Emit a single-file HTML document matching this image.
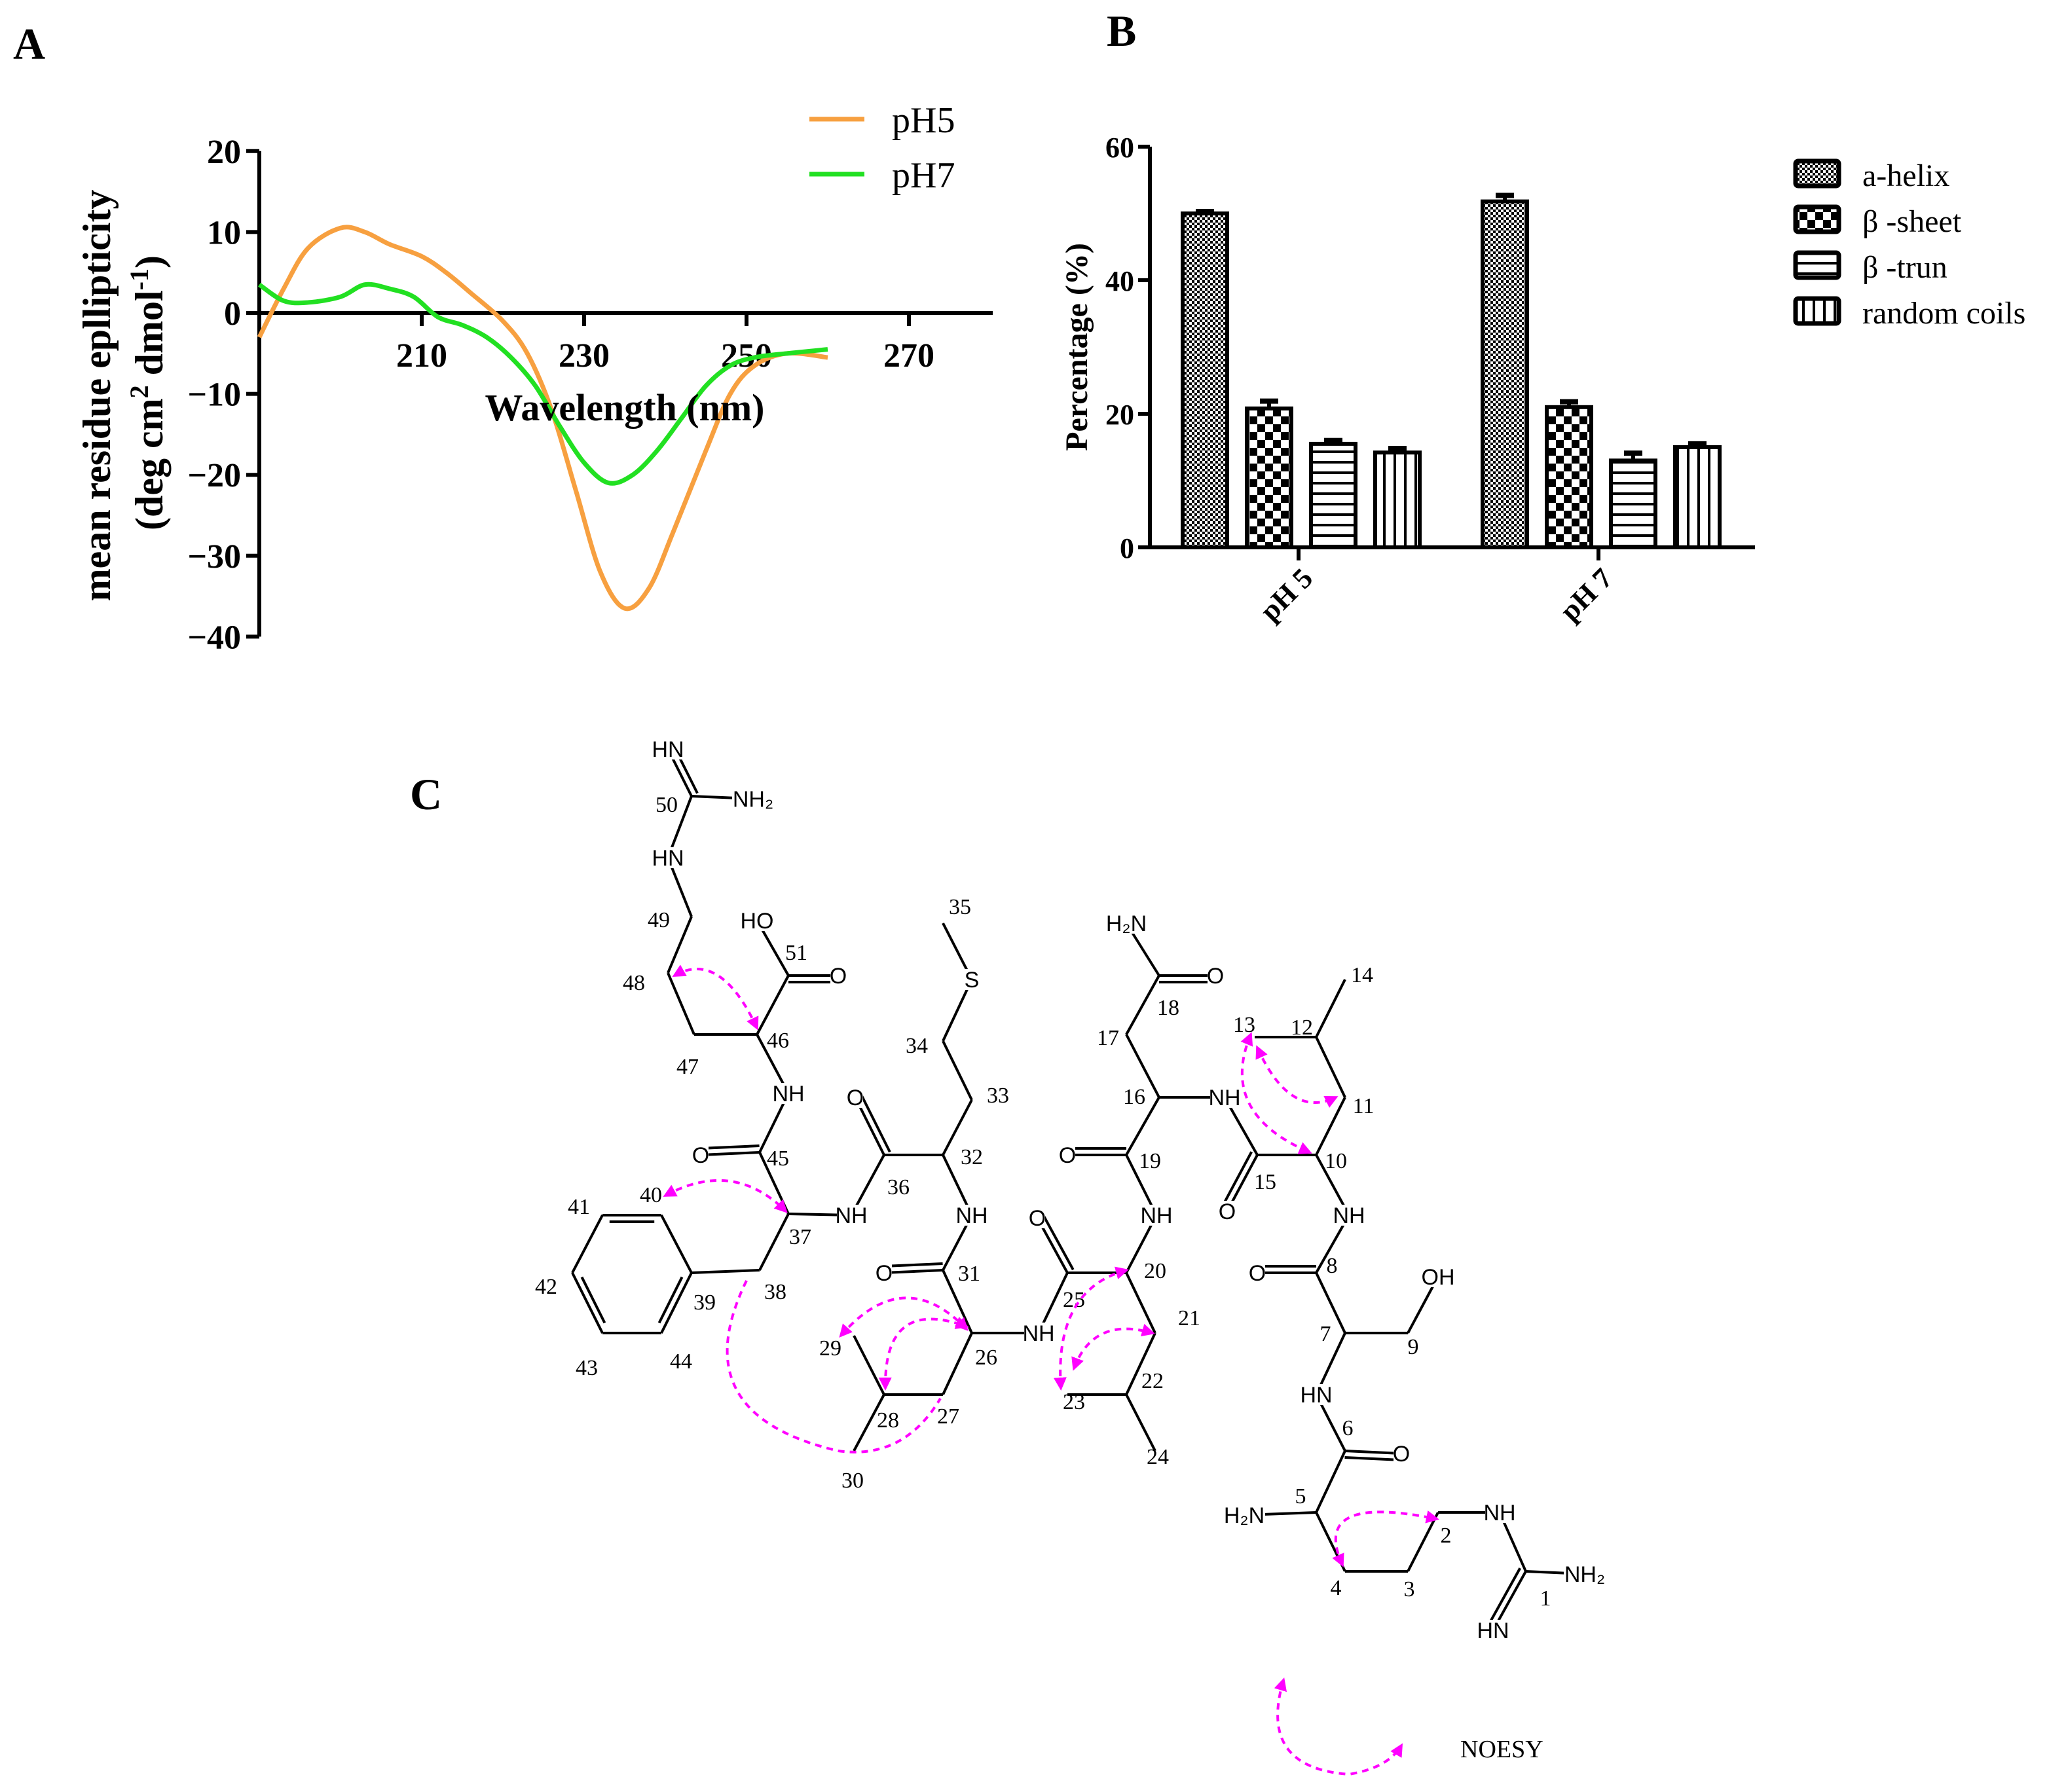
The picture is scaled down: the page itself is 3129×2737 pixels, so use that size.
<!DOCTYPE html>
<html><head><meta charset="utf-8"><style>
html,body{margin:0;padding:0;background:#fff}
svg{display:block}
.serif{font-family:"Liberation Serif",serif}
.sans{font-family:"Liberation Sans",sans-serif}
</style></head><body>
<svg id="fig" width="3129" height="2737" viewBox="0 0 1564.5 1368.5" xmlns="http://www.w3.org/2000/svg">
<defs>
<pattern id="pHelix" width="4" height="4" patternUnits="userSpaceOnUse"><rect width="4" height="4" fill="#fff"/><rect width="2" height="2" fill="#000"/><rect x="2" y="2" width="2" height="2" fill="#000"/></pattern>
<pattern id="pSheet" width="12" height="12" patternUnits="userSpaceOnUse"><rect width="12" height="12" fill="#fff"/><rect width="6" height="6" fill="#000"/><rect x="6" y="6" width="6" height="6" fill="#000"/></pattern>
<pattern id="pTurn" width="8" height="8" patternUnits="userSpaceOnUse"><rect width="8" height="8" fill="#fff"/><rect y="0" width="8" height="2" fill="#000"/></pattern>
<pattern id="pCoil" width="8" height="8" patternUnits="userSpaceOnUse"><rect width="8" height="8" fill="#fff"/><rect x="0" width="2" height="8" fill="#000"/></pattern>
<marker id="arr" viewBox="0 0 10 10" refX="8" refY="5" markerWidth="5" markerHeight="5" orient="auto-start-reverse"><path d="M0,0L10,5L0,10z" fill="#f0f"/></marker>
</defs>
<text x="10" y="45" class="serif" font-size="34" font-weight="bold">A</text>
<text x="845" y="35" class="serif" font-size="34" font-weight="bold">B</text>
<text x="313" y="618" class="serif" font-size="34" font-weight="bold">C</text>
<g id="chartA"></g>
<g id="chartB"></g>
<g id="chem"></g>
</svg>
<script>
const NS="http://www.w3.org/2000/svg";
function mk(parent,tag,attrs,text){const e=document.createElementNS(NS,tag);for(const k in attrs)e.setAttribute(k,attrs[k]);if(text!==undefined)e.textContent=text;parent.appendChild(e);return e;}

// ---------- Chart A data ----------
const wl5=[190,193,196,200,203,206,210,213,216,220,223,226,229,232,235,238,241,245,248,251,255,260];
const ph5=[-3,3,8,10.5,10,8.5,7,5,2.5,-1,-5,-12,-22,-32,-36.5,-34,-27,-17,-10,-6.5,-5,-5.5];
const wl7=[190,193,196,200,203,206,209,212,215,218,221,224,227,230,233,236,239,242,245,248,251,255,260];
const ph7=[3.5,1.5,1.3,2,3.5,3,2,-0.5,-1.5,-3,-5.5,-9,-14,-18.5,-21,-20,-17,-13,-9,-6.5,-5.5,-5,-4.5];
const xTicksA=[210,230,250,270];
const yTicksA=[20,10,0,-10,-20,-30,-40];
const A=document.getElementById('chartA');
const ax=v=>198+(v-190)*6.2;
const ay=v=>239-v*6.18;
mk(A,'line',{x1:198,y1:ay(20),x2:198,y2:ay(-40),stroke:'#000','stroke-width':3,});
mk(A,'line',{x1:198,y1:ay(0),x2:758,y2:ay(0),stroke:'#000','stroke-width':3,});
yTicksA.forEach(v=>{
 const t=mk(A,'line',{x1:188,y1:ay(v),x2:198,y2:ay(v),stroke:'#000','stroke-width':3});
 
 const l=mk(A,'text',{x:184,y:ay(v)+9,'text-anchor':'end','font-size':26,'font-weight':'bold',class:'serif'},v===0?'0':String(v).replace('-','−'));
 
});
xTicksA.forEach(v=>{
 const t=mk(A,'line',{x1:ax(v),y1:ay(0),x2:ax(v),y2:ay(0)+10,stroke:'#000','stroke-width':3});
 
 const l=mk(A,'text',{x:ax(v),y:280,'text-anchor':'middle','font-size':26,'font-weight':'bold',class:'serif'},String(v));
 
});
function smooth(xs,ys){let p=xs.map((x,i)=>[ax(x),ay(ys[i])]);let d='M'+p[0][0]+','+p[0][1];for(let i=0;i<p.length-1;i++){const p0=p[i-1]||p[i],p1=p[i],p2=p[i+1],p3=p[i+2]||p2;d+=` C${p1[0]+(p2[0]-p0[0])/6},${p1[1]+(p2[1]-p0[1])/6} ${p2[0]-(p3[0]-p1[0])/6},${p2[1]-(p3[1]-p1[1])/6} ${p2[0]},${p2[1]}`;}return d;}
let s5=mk(A,'path',{d:smooth(wl5,ph5),fill:'none',stroke:'#f7a040','stroke-width':3.5});

let s7=mk(A,'path',{d:smooth(wl7,ph7),fill:'none',stroke:'#22e022','stroke-width':3.5});

mk(A,'text',{x:477,y:321,'text-anchor':'middle','font-size':29,'font-weight':'bold',class:'serif',},'Wavelength (nm)');
mk(A,'text',{transform:'translate(84,302) rotate(-90)','text-anchor':'middle','font-size':30,'font-weight':'bold',class:'serif',},'mean residue epllipticity');
const yt2=mk(A,'text',{transform:'translate(124,300) rotate(-90)','text-anchor':'middle','font-size':30,'font-weight':'bold',class:'serif',});
yt2.innerHTML='(deg cm<tspan dy="-11" font-size="20">2</tspan><tspan dy="11"> dmol</tspan><tspan dy="-11" font-size="20">-1</tspan><tspan dy="11">)</tspan>';
mk(A,'line',{x1:618,y1:91,x2:660,y2:91,stroke:'#f7a040','stroke-width':3.5,});
mk(A,'text',{x:681,y:101,'font-size':28,class:'serif',},'pH5');
mk(A,'line',{x1:618,y1:133,x2:660,y2:133,stroke:'#22e022','stroke-width':3.5,});
mk(A,'text',{x:681,y:143,'font-size':28,class:'serif',},'pH7');

// ---------- Chart B data ----------
const groups=['pH 5','pH 7'];
const structNames=['a-helix','β -sheet','β -trun','random coils'];
const valsPH5=[50,20.8,15.5,14.2];
const valsPH7=[51.8,21,13,15];
const errPH5=[0.3,1.1,0.5,0.6];
const errPH7=[0.9,0.8,1.1,0.5];
const yTicksB=[0,20,40,60];
const B=document.getElementById('chartB');
const by=v=>418-v*5.1;
const fills=['url(#pHelix)','url(#pSheet)','url(#pTurn)','url(#pCoil)'];
mk(B,'line',{x1:878,y1:by(60),x2:878,y2:by(0),stroke:'#000','stroke-width':3,});
mk(B,'line',{x1:870,y1:by(0),x2:1340,y2:by(0),stroke:'#000','stroke-width':3,});
yTicksB.forEach(v=>{
 const t=mk(B,'line',{x1:869,y1:by(v),x2:878,y2:by(v),stroke:'#000','stroke-width':3});
 
 const l=mk(B,'text',{x:866,y:by(v)+8,'text-anchor':'end','font-size':22,'font-weight':'bold',class:'serif'},String(v));
 
});
mk(B,'text',{transform:'translate(830,265) rotate(-90)','text-anchor':'middle','font-size':24,'font-weight':'bold',class:'serif',},'Percentage (%)');
const groupVals=[valsPH5,valsPH7],groupErr=[errPH5,errPH7],groupStart=[903,1132];
groups.forEach((g,gi)=>{
 groupVals[gi].forEach((v,i)=>{
  const x=groupStart[gi]+i*49,w=34,top=by(v),etop=by(v+groupErr[gi][i]);
  const el=mk(B,'line',{x1:x+w/2,y1:etop,x2:x+w/2,y2:top,stroke:'#000','stroke-width':3});
  
  const ec=mk(B,'line',{x1:x+w/2-7,y1:etop,x2:x+w/2+7,y2:etop,stroke:'#000','stroke-width':4});
  
  const r=mk(B,'rect',{x:x,y:top,width:w,height:by(0)-top,fill:fills[i],stroke:'#000','stroke-width':3});
  
 });
 const cx=groupStart[gi]+49*1.5+17;
 const t=mk(B,'line',{x1:cx-2,y1:by(0),x2:cx-2,y2:by(0)+10,stroke:'#000','stroke-width':3});
 
 const l=mk(B,'text',{transform:`translate(${cx+10},${by(0)+25}) rotate(-45)`,'text-anchor':'end','font-size':22,'font-weight':'bold',class:'serif'},g);
 
});
structNames.forEach((n,i)=>{
 const y=133+i*35;
 const r=mk(B,'rect',{x:1371,y:y-10,width:33,height:19,fill:fills[i],stroke:'#000','stroke-width':3.5,rx:2});
 
 const t=mk(B,'text',{x:1422,y:y+9,'font-size':24,class:'serif'},n);
 
});

// ---------- Structure C ----------
const C=document.getElementById('chem');
const P={
 n50a:[510,572],c50:[528,608],n50b:[575,610],n49:[510,655],c49:[528,700],c48:[510,743],c47:[530,790],c46:[578,790],c51:[602,745],oh51:[578,703],o51:[640,745],
 n46:[602,835],c45:[580,880],o45:[535,882],c37:[602,927],n37:[650,928],c38:[580,970],c39:[528,972],c40:[505,928],c41:[460,928],c42:[437,972],c43:[460,1018],c44:[505,1018],
 c36:[675,882],o36:[653,838],c32:[720,882],c33:[742,840],c34:[720,795],s:[742,748],c35:[720,705],
 n32:[742,928],c31:[720,970],o31:[675,972],c26:[742,1018],n26:[793,1018],c27:[720,1065],c28:[675,1065],c29:[652,1020],c30:[652,1108],
 c25:[815,972],o25:[792,930],c20:[860,972],n20:[883,928],c21:[882,1018],c22:[860,1065],c23:[815,1065],c24:[882,1108],
 c19:[860,882],o19:[815,882],c16:[885,838],c17:[860,790],c18:[885,745],o18:[928,745],n18:[860,705],
 n16:[935,838],c15:[960,882],o15:[937,925],c10:[1005,882],c11:[1027,838],c12:[1005,792],c13:[958,792],c14:[1027,748],
 n10:[1030,928],c8:[1005,972],o8:[960,972],c7:[1027,1018],c9:[1075,1018],oh9:[1098,975],n7:[1005,1065],c6:[1027,1108],o6:[1070,1110],c5:[1005,1155],n5:[950,1157],c4:[1027,1200],c3:[1075,1200],c2:[1098,1155],n2:[1145,1155],c1:[1165,1200],n1:[1210,1202],n1b:[1140,1245]
};
const single=[['c50','n50b'],['c50','n49'],['n49','c49'],['c49','c48'],['c48','c47'],['c47','c46'],['c46','c51'],['c51','oh51'],['c46','n46'],['n46','c45'],['c45','c37'],['c37','n37'],['c37','c38'],['c38','c39'],['c39','c40'],['c41','c42'],['c43','c44'],
 ['n37','c36'],['c36','c32'],['c32','c33'],['c33','c34'],['c34','s'],['s','c35'],['c32','n32'],['n32','c31'],['c31','c26'],['c26','n26'],['c26','c27'],['c27','c28'],['c28','c29'],['c28','c30'],
 ['n26','c25'],['c25','c20'],['c20','n20'],['c20','c21'],['c21','c22'],['c22','c23'],['c22','c24'],['n20','c19'],['c19','c16'],['c16','c17'],['c17','c18'],['c18','n18'],['c16','n16'],['n16','c15'],['c15','c10'],['c10','c11'],['c11','c12'],['c12','c13'],['c12','c14'],
 ['c10','n10'],['n10','c8'],['c8','c7'],['c7','c9'],['c9','oh9'],['c7','n7'],['n7','c6'],['c6','c5'],['c5','n5'],['c5','c4'],['c4','c3'],['c3','c2'],['c2','n2'],['n2','c1'],['c1','n1']];
const dbl=[['c50','n50a'],['c51','o51'],['c45','o45'],['c36','o36'],['c31','o31'],['c25','o25'],['c19','o19'],['c18','o18'],['c15','o15'],['c8','o8'],['c6','o6'],['c1','n1b'],['c40','c41'],['c42','c43'],['c44','c39']];
const ringC=[482,972];
single.forEach(([a,b])=>{const l=mk(C,'line',{x1:P[a][0],y1:P[a][1],x2:P[b][0],y2:P[b][1],stroke:'#000','stroke-width':2});});
dbl.forEach(([a,b])=>{const [x1,y1]=P[a],[x2,y2]=P[b];let dx=x2-x1,dy=y2-y1,L=Math.hypot(dx,dy),nx=-dy/L*5,ny=dx/L*5;
 const l=mk(C,'line',{x1,y1,x2,y2,stroke:'#000','stroke-width':2});
 if(a.startsWith('c4')&&b.startsWith('c4')||a==='c44'){
  const mx=(x1+x2)/2,my=(y1+y2)/2;if((mx+nx-ringC[0])**2+(my+ny-ringC[1])**2>(mx-ringC[0])**2+(my-ringC[1])**2){nx=-nx;ny=-ny;}
  const l2=mk(C,'line',{x1:x1+nx+dx*0.12,y1:y1+ny+dy*0.12,x2:x2+nx-dx*0.12,y2:y2+ny-dy*0.12,stroke:'#000','stroke-width':2});
 } else {const l2=mk(C,'line',{x1:x1+nx,y1:y1+ny,x2:x2+nx,y2:y2+ny,stroke:'#000','stroke-width':2});}
});
const atoms=[['n50a','HN'],['n50b','NH₂'],['n49','HN'],['oh51','HO'],['o51','O'],['n46','NH'],['o45','O'],['n37','NH'],['o36','O'],['s','S'],['n32','NH'],['o31','O'],['n26','NH'],['o25','O'],['n20','NH'],['o19','O'],['o18','O'],['n18','H₂N'],['n16','NH'],['o15','O'],['n10','NH'],['o8','O'],['oh9','OH'],['n7','HN'],['o6','O'],['n5','H₂N'],['n2','NH'],['n1','NH₂'],['n1b','HN']];
atoms.forEach(([k,t])=>{const w=t.length*10+2;
 const bg=mk(C,'rect',{x:P[k][0]-w/2,y:P[k][1]-8,width:w,height:16,fill:'#fff'});
 const e=mk(C,'text',{x:P[k][0],y:P[k][1]+6,'text-anchor':'middle','font-size':17,class:'sans'},t);});
const nums=[[50,509,620],[49,503,708],[48,484,756],[47,525,820],[46,594,800],[51,608,733],[45,594,890],[37,611,950],[38,592,992],[39,538,1000],[40,497,918],[41,442,927],[42,417,988],[43,448,1050],[44,520,1045],[36,686,912],[32,742,889],[33,762,842],[34,700,804],[35,733,698],[31,740,978],[26,753,1042],[27,724,1087],[28,678,1090],[29,634,1035],[30,651,1136],[25,820,998],[20,882,976],[21,908,1012],[22,880,1060],[23,820,1076],[24,884,1118],[19,878,892],[16,866,843],[17,846,798],[18,892,775],[15,966,908],[10,1020,892],[11,1041,850],[12,994,790],[13,950,788],[14,1040,750],[8,1017,972],[7,1012,1024],[9,1079,1034],[6,1029,1096],[5,993,1148],[4,1020,1218],[3,1076,1219],[2,1104,1178],[1,1180,1226]];
nums.forEach(([n,x,y])=>{const e=mk(C,'text',{x,y,'text-anchor':'middle','font-size':17,class:'serif'},String(n));});
const arcs=[['M515,745 Q550,725 578,785',1],['M508,913 Q560,885 600,925',1],['M642,1020 Q690,965 738,1015',1],['M676,1060 Q675,990 738,1013',1],['M570,978 Q520,1080 640,1108 Q690,1115 718,1068',0],['M810,1060 Q805,985 860,970',2],['M820,1045 Q835,1005 880,1018',1],['M955,790 Q930,850 1000,880',2],['M960,800 Q985,855 1020,838',1],['M1025,1195 Q1000,1140 1097,1160',2],['M980,1283 Q960,1350 1030,1355 Q1060,1350 1070,1333',2]];
arcs.forEach(([d,m])=>{const a={d,fill:'none',stroke:'#f0f','stroke-width':2,'stroke-dasharray':'5,4'};if(m>=1){a['marker-end']='url(#arr)';a['marker-start']='url(#arr)';}const e=mk(C,'path',a);});
mk(C,'text',{x:1115,y:1342,'font-size':19,class:'serif',},'NOESY');
</script>
</body></html>
